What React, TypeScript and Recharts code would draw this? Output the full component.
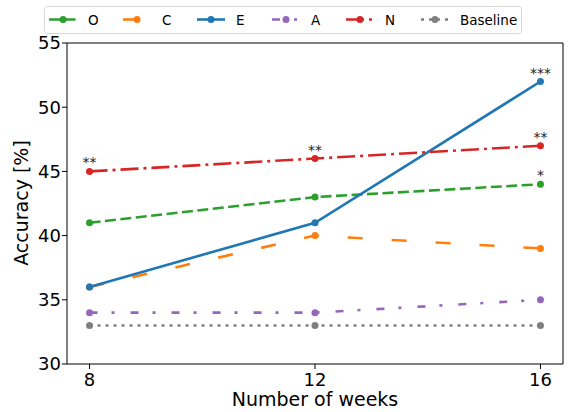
import React from 'react';
import { LineChart, Line, XAxis, YAxis, LabelList, ReferenceLine } from 'recharts';

// weeks on the x axis
const weeks = [8, 12, 16];

// accuracy per trait (%)
const openness = [41, 43, 44];
const conscientiousness = [36, 40, 39];
const extraversion = [36, 41, 52];
const agreeableness = [34, 34, 35];
const neuroticism = [45, 46, 47];
const baseline = [33, 33, 33];

// significance marks
const oStars = [null, null, '*'];
const eStars = [null, null, '***'];
const nStars = ['**', '**', '**'];

const xTicks = [8, 12, 16];
const yTicks = [30, 35, 40, 45, 50, 55];
const xDomain = [7.6, 16.4];
const yDomain = [30, 55];

const data = weeks.map((w, i) => ({
  week: w,
  O: openness[i],
  C: conscientiousness[i],
  E: extraversion[i],
  A: agreeableness[i],
  N: neuroticism[i],
  Baseline: baseline[i],
  oStar: oStars[i],
  eStar: eStars[i],
  nStar: nStars[i],
}));

const FONT = '"DejaVu Sans", sans-serif';

const series = [
  { key: 'O', color: '#2ca02c', dash: '11 4.5', star: 'oStar' },
  { key: 'C', color: '#ff7f0e', dash: '15 29' },
  { key: 'E', color: '#1f77b4', dash: undefined, star: 'eStar' },
  { key: 'A', color: '#9467bd', dash: '8 14 3 16' },
  { key: 'N', color: '#d62728', dash: '18 5 3 5', star: 'nStar' },
  { key: 'Baseline', color: '#7f7f7f', dash: '3 5' },
];

// handle x positions in the legend box
const legendX = [49, 123, 197, 272, 346, 421];

function LegendBox() {
  return (
    <svg width={586} height={40} style={{ position: 'absolute', left: 0, top: 0 }}>
      <rect x={44.5} y={6.5} width={477} height={27} rx={3} fill="#fff" fillOpacity={0.8} stroke="#d6d6d6" />
      {series.map((s, i) => {
        const x0 = legendX[i];
        return (
          <g key={s.key}>
            <line x1={x0} x2={x0 + 28} y1={19.5} y2={19.5} stroke={s.color} strokeWidth={2.6} strokeDasharray={s.dash} />
            <circle cx={x0 + 14} cy={19.5} r={3.5} fill={s.color} />
            <text x={x0 + 39} y={24.5} fontSize={13.5} fontFamily={FONT} fill="#000">{s.key}</text>
          </g>
        );
      })}
    </svg>
  );
}

export default function App() {
  return (
    <div style={{ position: 'absolute', left: 0, top: 0, width: 586, height: 412, background: '#fff' }}>
      <LineChart width={586} height={412} data={data} margin={{ top: 43, right: 23, bottom: 0, left: 17 }}>
        <XAxis
          dataKey="week"
          type="number"
          domain={xDomain}
          ticks={xTicks}
          allowDataOverflow
          height={48}
          tickSize={5}
          tickMargin={4}
          axisLine={{ stroke: '#000', strokeWidth: 1 }}
          tickLine={{ stroke: '#000' }}
          tick={{ fill: '#000', fontSize: 18, fontFamily: FONT }}
          label={{
            content: () => (
              <text x={315} y={406} textAnchor="middle" fontSize={19} fontFamily={FONT} fill="#000">Number of weeks</text>
            ),
          }}
        />
        <YAxis
          domain={yDomain}
          ticks={yTicks}
          width={50}
          tickSize={5}
          tickMargin={1}
          axisLine={{ stroke: '#000', strokeWidth: 1 }}
          tickLine={{ stroke: '#000' }}
          tick={{ fill: '#000', fontSize: 18, fontFamily: FONT }}
          label={{
            content: () => (
              <text x={28} y={203} transform="rotate(-90 28 203)" textAnchor="middle" fontSize={19} fontFamily={FONT} fill="#000">Accuracy [%]</text>
            ),
          }}
        />
        {/* top and right spines */}
        <ReferenceLine y={yDomain[1]} stroke="#000" strokeWidth={1} ifOverflow="visible" />
        <ReferenceLine x={xDomain[1]} stroke="#000" strokeWidth={1} ifOverflow="visible" />
        {series.map((s) => (
          <Line
            key={s.key}
            dataKey={s.key}
            type="linear"
            stroke={s.color}
            strokeWidth={2.6}
            strokeDasharray={s.dash}
            dot={{ r: 3.5, fill: s.color, stroke: 'none', strokeDasharray: undefined }}
            activeDot={false}
            isAnimationActive={false}
          >
            {s.star ? (
              <LabelList dataKey={s.star} position="top" offset={4} fontSize={14} fontFamily={FONT} fill="#222" />
            ) : null}
          </Line>
        ))}
      </LineChart>
      <LegendBox />
    </div>
  );
}
